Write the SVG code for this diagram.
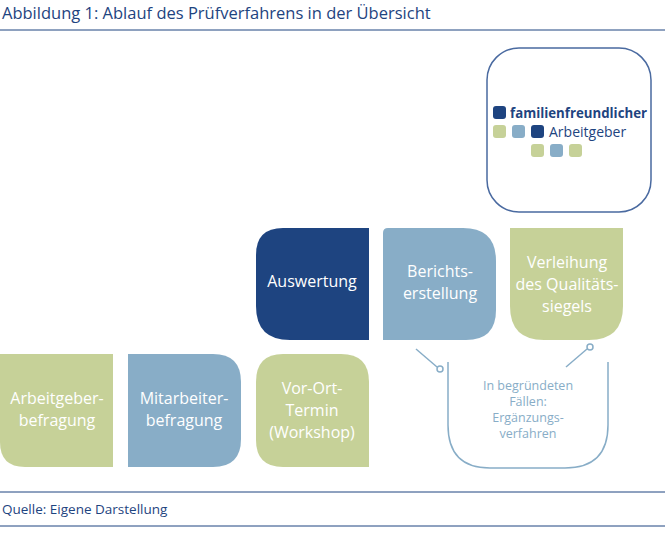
<svg xmlns="http://www.w3.org/2000/svg" width="665" height="550" viewBox="0 0 665 550">
<style>
text{font-family:"Open Sans","Liberation Sans",sans-serif}
.w{fill:#fff;font-size:16px;text-anchor:middle}
.g{fill:#c6d198}.l{fill:#88adc7}.d{fill:#1e4480}
.rule{stroke:#1e4480;stroke-width:1}
.c{fill:none;stroke:#88adc7;stroke-width:1.5}
</style>
<rect width="665" height="550" fill="#fff"/>
<text x="2" y="19" font-size="16.5" fill="#1e4480">Abbildung 1: Ablauf des Prüfverfahrens in der Übersicht</text>
<line class="rule" x1="0" y1="30" x2="665" y2="30"/>
<line class="rule" x1="0" y1="492" x2="665" y2="492"/>
<line class="rule" x1="0" y1="526" x2="665" y2="526"/>
<text x="2" y="514" font-size="13.5" fill="#1e4480">Quelle: Eigene Darstellung</text>
<g id="logo">
<rect x="487" y="48" width="164" height="164" rx="32" fill="#fff" stroke="#4a6aa0" stroke-width="1.5"/>
<rect x="493" y="106" width="13" height="13" rx="3" class="d"/>
<text x="510" y="118" font-size="13.5" font-weight="bold" fill="#1e4480" textLength="137" lengthAdjust="spacingAndGlyphs">familienfreundlicher</text>
<rect x="493" y="125" width="13" height="13" rx="3" class="g"/>
<rect x="512" y="125" width="13" height="13" rx="3" class="l"/>
<rect x="531" y="125" width="13" height="13" rx="3" class="d"/>
<text x="549" y="137" font-size="14" fill="#1e4480">Arbeitgeber</text>
<rect x="531" y="144" width="13" height="13" rx="3" class="g"/>
<rect x="550" y="144" width="13" height="13" rx="3" class="l"/>
<rect x="569" y="144" width="13" height="13" rx="3" class="g"/>
</g>
<g id="n1"><path class="g" d="M0 354H113V467H25Q0 467 0 442Z"/><text class="w" x="57" y="404">Arbeitgeber-</text><text class="w" x="57" y="426">befragung</text></g>
<g id="n2"><path class="l" d="M128 354H213Q241 354 241 382V439Q241 467 213 467H128Z"/><text class="w" x="184" y="404">Mitarbeiter-</text><text class="w" x="184" y="426">befragung</text></g>
<g id="n3"><path class="g" d="M283 354H341Q369 354 369 382V467H283Q256 467 256 440V382Q256 354 283 354Z"/><text class="w" x="312" y="394">Vor-Ort-</text><text class="w" x="312" y="416">Termin</text><text class="w" x="312" y="438">(Workshop)</text></g>
<g id="n4"><path class="d" d="M283 228H369V340H290Q256 340 256 306V255Q256 228 283 228Z"/><text class="w" x="312" y="287">Auswertung</text></g>
<g id="n5"><path class="l" d="M388 228H463Q496 228 496 261V310Q496 340 466 340H383V233Q383 228 388 228Z"/><text class="w" x="440" y="277">Berichts-</text><text class="w" x="440" y="299">erstellung</text></g>
<g id="n6"><path class="g" d="M510 228H623V306Q623 340 589 340H544Q510 340 510 306Z"/><text class="w" x="567" y="268">Verleihung</text><text class="w" x="567" y="290">des Qualitäts-</text><text class="w" x="567" y="312">siegels</text></g>
<g id="connectors">
<path class="c" d="M416 349L437 367"/><circle class="c" cx="440" cy="369" r="3"/>
<path class="c" d="M587 349L566 367"/><circle class="c" cx="590" cy="347" r="3"/>
<path class="c" d="M448 362V425Q448 468 490 468H565Q608 468 608 425V362"/>
</g>
<g id="note" fill="#88adc7" font-size="12.5" text-anchor="middle">
<text x="528" y="390">In begründeten</text><text x="528" y="406">Fällen:</text><text x="528" y="422">Ergänzungs-</text><text x="528" y="438">verfahren</text>
</g>
</svg>
